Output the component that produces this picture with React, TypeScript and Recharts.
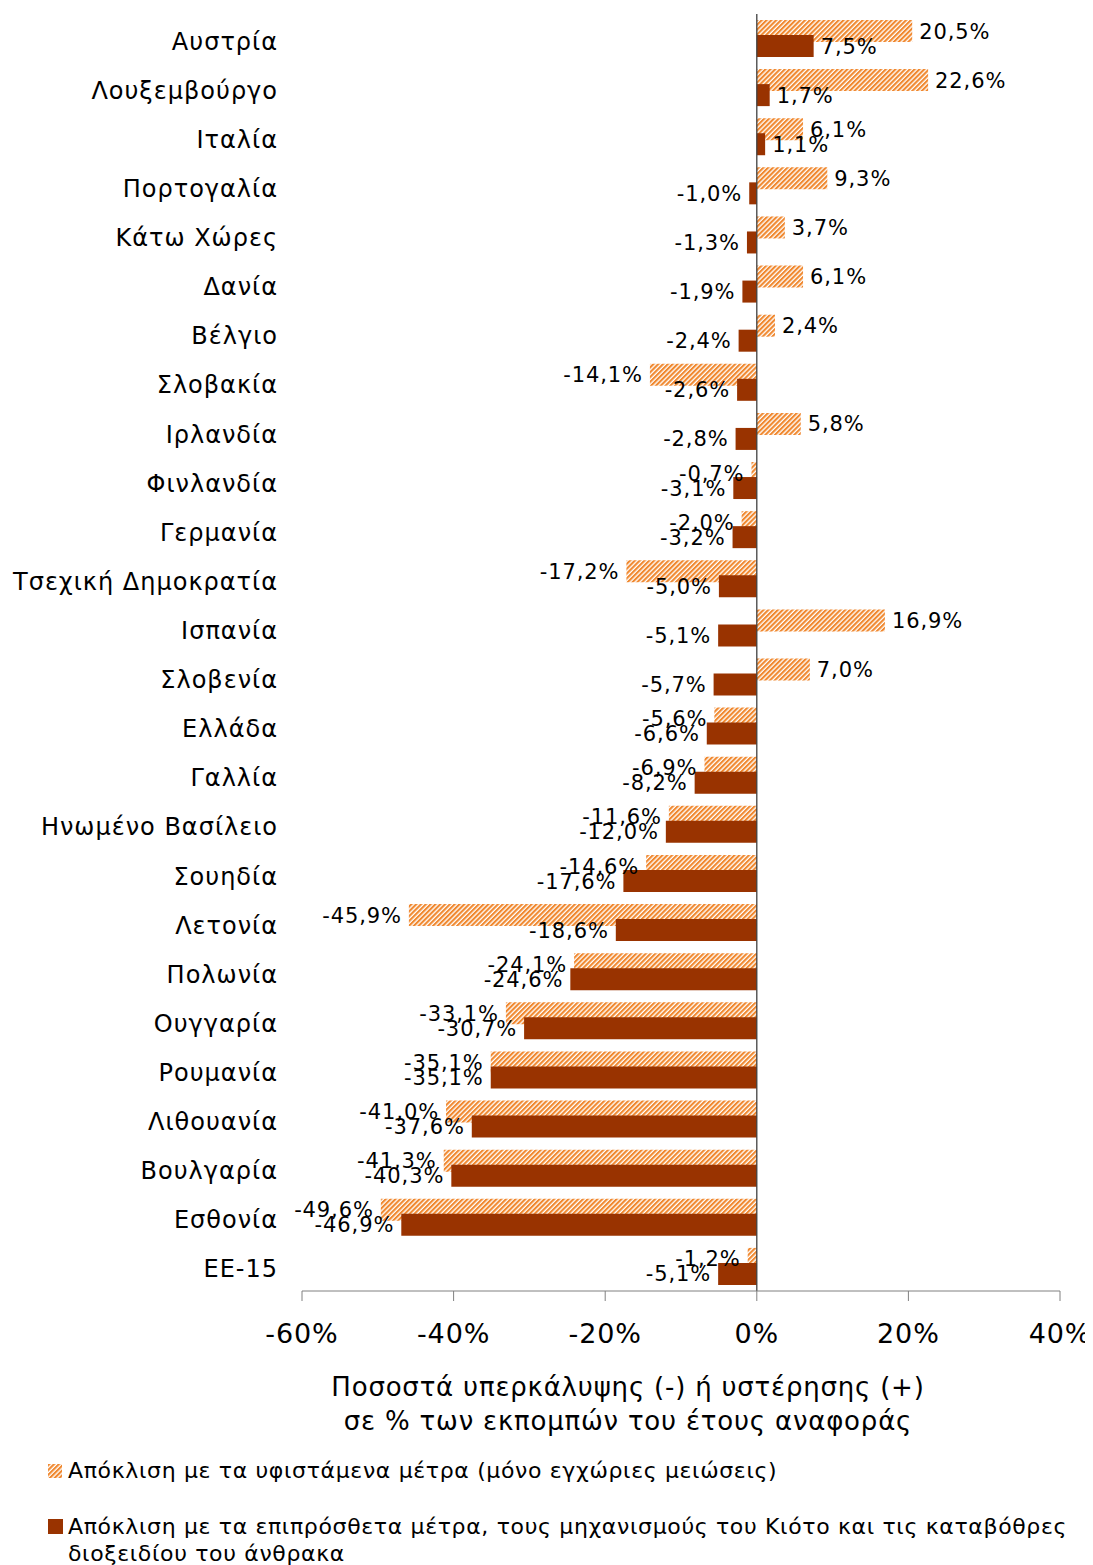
import React from 'react';
import { BarChart, Bar, XAxis, YAxis, ReferenceLine, LabelList } from 'recharts';

const countries = ['Αυστρία', 'Λουξεμβούργο', 'Ιταλία', 'Πορτογαλία', 'Κάτω Χώρες', 'Δανία', 'Βέλγιο', 'Σλοβακία', 'Ιρλανδία', 'Φινλανδία', 'Γερμανία', 'Τσεχική Δημοκρατία', 'Ισπανία', 'Σλοβενία', 'Ελλάδα', 'Γαλλία', 'Ηνωμένο Βασίλειο', 'Σουηδία', 'Λετονία', 'Πολωνία', 'Ουγγαρία', 'Ρουμανία', 'Λιθουανία', 'Βουλγαρία', 'Εσθονία', 'ΕΕ-15'];
const existingMeasures = [20.5, 22.6, 6.1, 9.3, 3.7, 6.1, 2.4, -14.1, 5.8, -0.7, -2.0, -17.2, 16.9, 7.0, -5.6, -6.9, -11.6, -14.6, -45.9, -24.1, -33.1, -35.1, -41.0, -41.3, -49.6, -1.2];
const additionalMeasures = [7.5, 1.7, 1.1, -1.0, -1.3, -1.9, -2.4, -2.6, -2.8, -3.1, -3.2, -5.0, -5.1, -5.7, -6.6, -8.2, -12.0, -17.6, -18.6, -24.6, -30.7, -35.1, -37.6, -40.3, -46.9, -5.1];
const xTicks = [-60, -40, -20, 0, 20, 40];

const legendExisting = 'Απόκλιση με τα υφιστάμενα μέτρα (μόνο εγχώριες μειώσεις)';
const legendAdditionalLine1 = 'Απόκλιση με τα επιπρόσθετα μέτρα, τους μηχανισμούς του Κιότο και τις καταβόθρες';
const legendAdditionalLine2 = 'διοξειδίου του άνθρακα';
const axisTitle1 = 'Ποσοστά υπερκάλυψης (-) ή υστέρησης (+)';
const axisTitle2 = 'σε % των εκπομπών του έτους αναφοράς';

const data = countries.map((c, i) => ({ name: c, existing: existingMeasures[i], additional: additionalMeasures[i] }));

const ORANGE = '#F0882F';
const BROWN = '#993300';
const FONT = '"DejaVu Sans", Verdana, sans-serif';

const fmt = (v: number) => v.toFixed(1).replace('.', ',') + '%';

const BarLabel = (props: any) => {
  const { x, y, width, height, value } = props;
  const v = Number(value);
  const left = Math.min(x, x + width);
  const right = Math.max(x, x + width);
  const top = Math.min(y, y + height);
  const cy = top + Math.abs(height) / 2;
  const pos = v >= 0;
  return (
    <text
      x={pos ? right + 7 : left - 7}
      y={cy}
      dy="0.36em"
      textAnchor={pos ? 'start' : 'end'}
      fontSize={21}
      fontFamily={FONT}
      letterSpacing={0.9}
      fill="#000"
    >
      {fmt(v)}
    </text>
  );
};

const CategoryTick = (props: any) => {
  const { x, y, payload } = props;
  return (
    <text x={x} y={y + 2.5} dy="0.355em" textAnchor="end" fontSize={24} fontFamily={FONT} letterSpacing={1} fill="#000">
      {payload.value}
    </text>
  );
};

const Hatch = ({ id }: { id: string }) => (
  <pattern id={id} patternUnits="userSpaceOnUse" width={3.4} height={3.4} patternTransform="rotate(45)">
    <rect x={0} y={0} width={3.4} height={3.4} fill="#fff" />
    <rect x={0} y={0} width={2.1} height={3.4} fill={ORANGE} />
  </pattern>
);

export default function App() {
  return (
    <div style={{ position: 'relative', width: 1085, height: 1557, fontFamily: FONT, overflow: 'hidden' }}>
      <BarChart
        width={1085}
        height={1345}
        data={data}
        layout="vertical"
        margin={{ top: 6, right: 33, left: 0, bottom: 0 }}
        barSize={22}
        barGap={-7}
      >
        <defs>
          <Hatch id="hatchOrange" />
        </defs>
        <XAxis
          type="number"
          domain={[-60, 40]}
          ticks={xTicks}
          tickFormatter={(v: number) => `${v}%`}
          height={62}
          tickSize={10}
          tickMargin={23}
          axisLine={{ stroke: '#808080', strokeWidth: 1 }}
          tickLine={{ stroke: '#808080', strokeWidth: 1 }}
          tick={{ fontSize: 27, fontFamily: FONT, fill: '#000', letterSpacing: 0.9 }}
          interval={0}
          allowDataOverflow
        />
        <YAxis
          type="category"
          dataKey="name"
          width={294}
          axisLine={false}
          tickLine={false}
          tickSize={0}
          tickMargin={24}
          interval={0}
          tick={<CategoryTick />}
        />
        <Bar dataKey="existing" fill="url(#hatchOrange)" isAnimationActive={false}>
          <LabelList dataKey="existing" content={<BarLabel />} />
        </Bar>
        <Bar dataKey="additional" fill={BROWN} isAnimationActive={false}>
          <LabelList dataKey="additional" content={<BarLabel />} />
        </Bar>
        <ReferenceLine x={0} stroke="#404040" strokeWidth={1.3} ifOverflow="extendDomain" />
      </BarChart>

      <div style={{ position: 'absolute', left: 0, width: 1240, top: 1362, textAlign: 'center', fontSize: 26, lineHeight: '34px', letterSpacing: 0.8, color: '#000' }}>
        <div>{axisTitle1}</div>
        <div>{axisTitle2}</div>
      </div>

      <div style={{ position: 'absolute', left: 40, top: 1449, fontSize: 22, color: '#000', lineHeight: '27px', letterSpacing: 0.65 }}>
        <div style={{ display: 'flex', alignItems: 'center' }}>
          <svg width={14} height={14} style={{ marginRight: 6 }}>
            <defs>
              <Hatch id="hatchLegend" />
            </defs>
            <rect x={0} y={0} width={14} height={14} fill="url(#hatchLegend)" />
          </svg>
          <span>{legendExisting}</span>
        </div>
        <div style={{ display: 'flex', alignItems: 'flex-start', marginTop: 29 }}>
          <svg width={15} height={15} style={{ marginRight: 5, marginTop: 6 }}>
            <rect x={0} y={0} width={15} height={15} fill={BROWN} />
          </svg>
          <div>
            <div>{legendAdditionalLine1}</div>
            <div>{legendAdditionalLine2}</div>
          </div>
        </div>
      </div>
    </div>
  );
}
